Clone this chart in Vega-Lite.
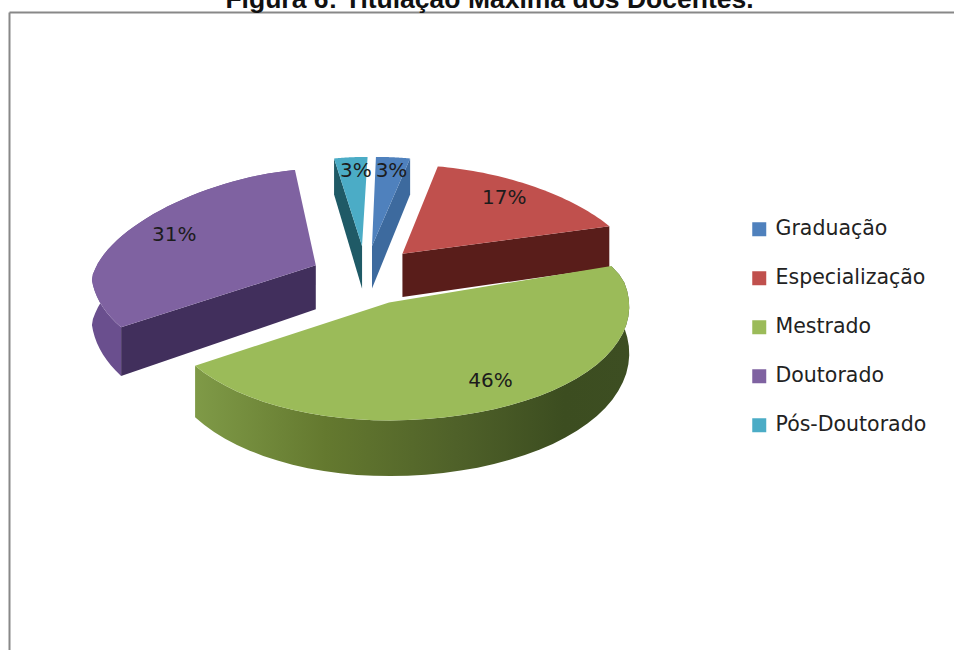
{
  "$schema": "https://vega.github.io/schema/vega-lite/v6.json",
  "width": 945,
  "height": 638,
  "padding": {"left": 9, "top": 12, "right": 0, "bottom": 0},
  "autosize": "none",
  "background": "white",
  "view": {"stroke": null},
  "title": {
    "text": "Figura 6: Titulação Máxima dos Docentes.",
    "font": "Liberation Sans",
    "fontSize": 26.5,
    "fontWeight": "bold",
    "color": "#111111",
    "anchor": "middle",
    "frame": "group",
    "dx": 8,
    "offset": -1
  },
  "config": {
    "axis": {"domainColor": "#888888", "domainWidth": 2, "ticks": false, "labels": false, "grid": false, "title": null}
  },
  "data": {
    "values": [
      {"rotulo": "Graduação", "value": 3},
      {"rotulo": "Especialização", "value": 17},
      {"rotulo": "Mestrado", "value": 46},
      {"rotulo": "Doutorado", "value": 31},
      {"rotulo": "Pós-Doutorado", "value": 3}
    ]
  },
  "transform": [
    {"window": [{"op": "sum", "field": "value", "as": "fim"}], "frame": [null, 0]},
    {"calculate": "datum.fim - datum.value", "as": "inicio"},
    {"calculate": "PI * (datum.inicio + datum.fim) / 100", "as": "meio"},
    {"calculate": "0.25 * sin(datum.meio)", "as": "ax"},
    {"calculate": "cos(datum.meio) * (cos(datum.meio) > 0 ? 0.3225 : 0.27)", "as": "ay"},
    {"calculate": "datum.ay < 0 ? 1.18 : (datum.ay > 0.2 ? 0.89 : 0.97)", "as": "ryFundo"},
    {"calculate": "datum.ay < 0 ? 1.18 : 1.16", "as": "ryFrente"}
  ],
  "encoding": {
    "x": {"field": "xp", "type": "quantitative", "scale": {"domain": [-1.5236, 2.5322], "nice": false, "zero": false}, "axis": {"orient": "top"}},
    "y": {"field": "yp", "type": "quantitative", "scale": {"domain": [-3.72, 2.66], "nice": false, "zero": false}, "axis": {"orient": "left"}}
  },
  "layer": [
    {
      "transform": [
        {"filter": "datum.rotulo === 'Doutorado'"},
        {"calculate": "sequence(0, 41)", "as": "t"},
        {"flatten": ["t"]},
        {"calculate": "[0, 1]", "as": "lado"},
        {"flatten": ["lado"]},
        {"filter": "datum.t <= 40"},
        {"calculate": "2 * PI * (datum.inicio + datum.value * datum.t / 40) / 100", "as": "ang"},
        {"calculate": "datum.ax + sin(datum.ang)", "as": "bx"},
        {"calculate": "datum.ay + cos(datum.ang) * (cos(datum.ang) > 0 ? datum.ryFundo : datum.ryFrente)", "as": "by"},
        {"calculate": "0.14 + (datum.bx - 0.14) * (1 - (datum.by > 0 ? 0.17 : 0.03) * datum.by) * (datum.bx < 0.14 ? 0.96 : 1.025)", "as": "xp"},
        {"calculate": "datum.by - datum.lado * (0.45 - 0.075 * datum.by)", "as": "yp"},
        {"calculate": "datum.lado === 0 ? datum.t : 100 - datum.t", "as": "ordem"}
      ],
      "mark": {"type": "line", "interpolate": "linear-closed", "filled": true, "fill": "#6a4f8e", "stroke": null},
      "encoding": {"order": {"field": "ordem", "type": "quantitative"}}
    },
    {
      "transform": [
        {"filter": "datum.rotulo === 'Mestrado'"},
        {"calculate": "sequence(0, 41)", "as": "t"},
        {"flatten": ["t"]},
        {"calculate": "[0, 1]", "as": "lado"},
        {"flatten": ["lado"]},
        {"filter": "datum.t <= 40"},
        {"calculate": "2 * PI * (datum.inicio + datum.value * datum.t / 40) / 100", "as": "ang"},
        {"calculate": "datum.ax + sin(datum.ang)", "as": "bx"},
        {"calculate": "datum.ay + cos(datum.ang) * (cos(datum.ang) > 0 ? datum.ryFundo : datum.ryFrente)", "as": "by"},
        {"calculate": "0.14 + (datum.bx - 0.14) * (1 - (datum.by > 0 ? 0.17 : 0.03) * datum.by) * (datum.bx < 0.14 ? 0.96 : 1.025)", "as": "xp"},
        {"calculate": "datum.by - datum.lado * (0.45 - 0.075 * datum.by)", "as": "yp"},
        {"calculate": "datum.lado === 0 ? datum.t : 100 - datum.t", "as": "ordem"}
      ],
      "mark": {
        "type": "line",
        "interpolate": "linear-closed",
        "filled": true,
        "stroke": null,
        "fill": {
          "gradient": "linear",
          "x1": 0, "y1": 0, "x2": 1, "y2": 0,
          "stops": [
            {"offset": 0, "color": "#7f9a47"},
            {"offset": 0.3, "color": "#64792f"},
            {"offset": 0.6, "color": "#4f6129"},
            {"offset": 0.85, "color": "#3c4d20"},
            {"offset": 1, "color": "#3d4e22"}
          ]
        }
      },
      "encoding": {"order": {"field": "ordem", "type": "quantitative"}}
    },
    {
      "transform": [
        {"filter": "datum.rotulo !== 'Mestrado'"},
        {"calculate": "[0, 1, 2, 3]", "as": "canto"},
        {"flatten": ["canto"]},
        {"calculate": "2 * PI * (sin(datum.meio) > 0 ? datum.fim : datum.inicio) / 100", "as": "ang"},
        {"calculate": "datum.canto === 1 || datum.canto === 2 ? datum.ax + sin(datum.ang) : datum.ax", "as": "bx"},
        {"calculate": "datum.canto === 1 || datum.canto === 2 ? datum.ay + cos(datum.ang) * (cos(datum.ang) > 0 ? datum.ryFundo : datum.ryFrente) : datum.ay", "as": "by"},
        {"calculate": "0.14 + (datum.bx - 0.14) * (1 - (datum.by > 0 ? 0.17 : 0.03) * datum.by) * (datum.bx < 0.14 ? 0.96 : 1.025)", "as": "xp"},
        {"calculate": "datum.canto >= 2 ? datum.by - (0.45 - 0.075 * datum.by) : datum.by", "as": "yp"}
      ],
      "mark": {"type": "line", "interpolate": "linear-closed", "filled": true, "stroke": null},
      "encoding": {
        "order": {"field": "canto", "type": "quantitative"},
        "color": {
          "field": "rotulo",
          "type": "nominal",
          "legend": null,
          "scale": {
            "domain": ["Graduação", "Especialização", "Doutorado", "Pós-Doutorado"],
            "range": ["#3d6a9e", "#591d1a", "#412f5c", "#1f5a66"]
          }
        }
      }
    },
    {
      "transform": [
        {"calculate": "sequence(0, 42)", "as": "t"},
        {"flatten": ["t"]},
        {"calculate": "2 * PI * (datum.inicio + datum.value * min(datum.t, 40) / 40) / 100", "as": "ang"},
        {"calculate": "datum.t > 40 ? datum.ax : datum.ax + sin(datum.ang)", "as": "bx"},
        {"calculate": "datum.t > 40 ? datum.ay : datum.ay + cos(datum.ang) * (cos(datum.ang) > 0 ? datum.ryFundo : datum.ryFrente)", "as": "by"},
        {"calculate": "0.14 + (datum.bx - 0.14) * (1 - (datum.by > 0 ? 0.17 : 0.03) * datum.by) * (datum.bx < 0.14 ? 0.96 : 1.025)", "as": "xp"},
        {"calculate": "datum.by", "as": "yp"}
      ],
      "mark": {"type": "line", "interpolate": "linear-closed", "filled": true, "stroke": null},
      "encoding": {
        "order": {"field": "t", "type": "quantitative"},
        "color": {
          "field": "rotulo",
          "type": "nominal",
          "scale": {
            "domain": ["Graduação", "Especialização", "Mestrado", "Doutorado", "Pós-Doutorado"],
            "range": ["#4f81bd", "#c0504d", "#9bbb59", "#7f62a1", "#4bacc6"]
          },
          "legend": {
            "orient": "none",
            "legendX": 740,
            "legendY": 207,
            "title": null,
            "symbolType": "square",
            "symbolSize": 196,
            "symbolStrokeWidth": 0,
            "labelFont": "DejaVu Sans",
            "labelFontSize": 20.5,
            "labelColor": "#222222",
            "labelLimit": 240,
            "labelOffset": 6,
            "rowPadding": 28
          }
        }
      }
    },
    {
      "transform": [
        {"calculate": "0.02 + datum.ax + (cos(datum.meio) > 0 ? 0.74 : 0.95) * sin(datum.meio)", "as": "bx"},
        {"calculate": "datum.ay + cos(datum.meio) * (cos(datum.meio) > 0 ? 0.75 : 0.87)", "as": "yp"},
        {"calculate": "0.14 + (datum.bx - 0.14) * (1 - (datum.yp > 0 ? 0.17 : 0.03) * datum.yp)", "as": "xp"},
        {"calculate": "datum.value + '%'", "as": "pct"}
      ],
      "mark": {"type": "text", "font": "DejaVu Sans", "fontSize": 20, "color": "#1c1c1c", "align": "center", "baseline": "middle"},
      "encoding": {"text": {"field": "pct", "type": "nominal"}}
    }
  ],
  "resolve": {"scale": {"color": "independent"}}
}
